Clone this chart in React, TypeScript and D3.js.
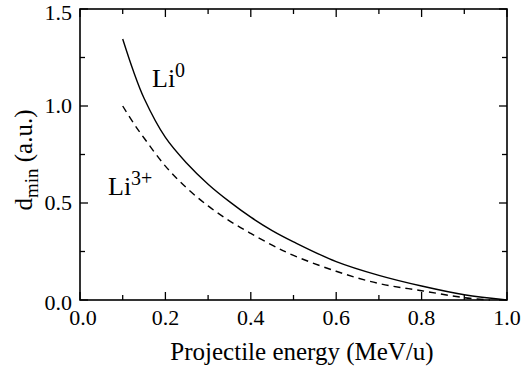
import React from 'react';
import * as d3 from 'd3';

const energy = [0.1, 0.125, 0.15, 0.2, 0.25, 0.3, 0.35, 0.4, 0.45, 0.5, 0.6, 0.7, 0.8, 0.9, 1.0];
const li0 = [1.345, 1.18, 1.04, 0.838, 0.705, 0.597, 0.507, 0.427, 0.358, 0.3, 0.198, 0.127, 0.072, 0.027, 0];
const energy3 = [0.1, 0.125, 0.15, 0.2, 0.25, 0.3, 0.35, 0.4, 0.45, 0.5, 0.6, 0.7, 0.8, 0.9, 0.96];
const li3 = [1.0, 0.913, 0.835, 0.69, 0.577, 0.485, 0.408, 0.343, 0.283, 0.23, 0.148, 0.085, 0.048, 0.012, 0];
const xTicks = [0, 0.2, 0.4, 0.6, 0.8, 1.0];
const yTicks = [0, 0.5, 1.0, 1.5];

const W = 524, H = 371;
const m = { left: 80, right: 17, top: 9, bottom: 71 };
const ff = 'Liberation Serif';

export default function App() {
  const x = d3.scaleLinear().domain([0, 1]).range([m.left, W - m.right]);
  const y = d3.scaleLinear().domain([0, 1.5]).range([H - m.bottom, m.top]);
  const x0 = x(0), x1 = x(1), y0 = y(0), y1 = y(1.5);
  const line = d3.line<[number, number]>().x(d => x(d[0])).y(d => y(d[1])).curve(d3.curveCatmullRom.alpha(0.5));
  const xMinor = d3.range(0, 11).map(i => i / 10);
  const yMinor = d3.range(0, 7).map(i => i / 4);

  return (
    <svg width={W} height={H} style={{ position: 'absolute', left: 0, top: 0, background: '#fff' }}>
      <rect x={x0} y={y1} width={x1 - x0} height={y0 - y1} fill="none" stroke="#000" strokeWidth={1.6} />
      {/* inward ticks on all four sides */}
      {xMinor.map((v, i) => {
        const len = i % 2 === 0 ? 8 : 5;
        return (
          <g key={'x' + i} stroke="#000" strokeWidth={1.3}>
            <line x1={x(v)} x2={x(v)} y1={y0} y2={y0 - len} />
            <line x1={x(v)} x2={x(v)} y1={y1} y2={y1 + len} />
          </g>
        );
      })}
      {yMinor.map((v, i) => {
        const len = i % 2 === 0 ? 8 : 5;
        return (
          <g key={'y' + i} stroke="#000" strokeWidth={1.3}>
            <line x1={x0} x2={x0 + len} y1={y(v)} y2={y(v)} />
            <line x1={x1} x2={x1 - len} y1={y(v)} y2={y(v)} />
          </g>
        );
      })}
      {xTicks.map(d => (
        <text key={'xl' + d} x={x(d) + (d === 0 ? 3 : 0)} y={y0 + 25} textAnchor="middle"
          fontFamily={ff} fontSize={22}>
          {d.toFixed(1)}
        </text>
      ))}
      {yTicks.map(d => (
        <text key={'yl' + d} x={x0 - 8} y={y(d) + 7 + (d === 0 ? 3 : 0) + (d === 1.5 ? 4 : 0)}
          textAnchor="end" fontFamily={ff} fontSize={22}>
          {d.toFixed(1)}
        </text>
      ))}
      <text x={302} y={360} textAnchor="middle" fontFamily={ff} fontSize={25}>Projectile energy (MeV/u)</text>
      <text transform="translate(32,160) rotate(-90)" textAnchor="middle" fontFamily={ff} fontSize={25}>
        <tspan>d</tspan>
        <tspan fontSize={19} dy={6}>min</tspan>
        <tspan dy={-6}> (a.u.)</tspan>
      </text>

      <path d={line(energy.map((e, i) => [e, li0[i]] as [number, number])) || ''}
        fill="none" stroke="#000" strokeWidth={1.4} />
      <path d={line(energy3.map((e, i) => [e, li3[i]] as [number, number])) || ''}
        fill="none" stroke="#000" strokeWidth={1.4} strokeDasharray="7,5" />

      <text x={152} y={87} fontFamily={ff} fontSize={26}>
        <tspan>Li</tspan>
        <tspan fontSize={20} dy={-10}>0</tspan>
      </text>
      <text x={108} y={195} fontFamily={ff} fontSize={26}>
        <tspan>Li</tspan>
        <tspan fontSize={20} dy={-10}>3+</tspan>
      </text>
    </svg>
  );
}
